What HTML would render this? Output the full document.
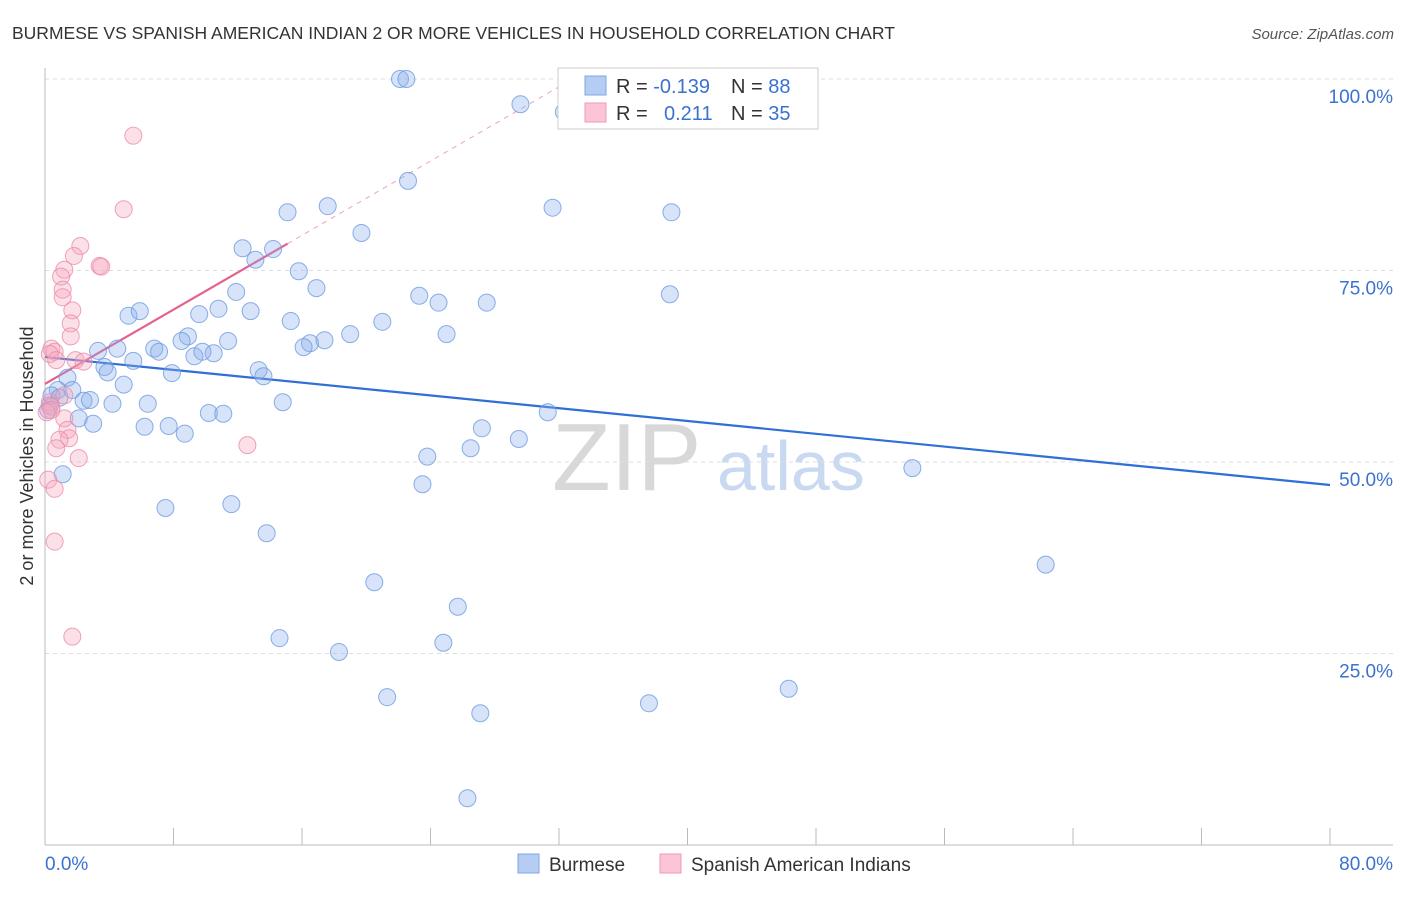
<!DOCTYPE html>
<html><head><meta charset="utf-8">
<style>
body{margin:0;background:#fff;font-family:"Liberation Sans",sans-serif;}
svg text{font-family:"Liberation Sans",sans-serif;}
</style></head>
<body>
<svg id="chart" width="1406" height="892" viewBox="0 0 1406 892" xmlns="http://www.w3.org/2000/svg">
<text x="12" y="39" font-size="17.5" fill="#333">BURMESE VS SPANISH AMERICAN INDIAN 2 OR MORE VEHICLES IN HOUSEHOLD CORRELATION CHART</text>
<text x="1394" y="39" font-size="15" fill="#555" font-style="italic" text-anchor="end">Source: ZipAtlas.com</text>
<text x="552" y="490" font-size="96" fill="#d8d8d8" font-family="Liberation Serif, serif">ZIP</text>
<text x="717" y="490" font-size="70" fill="#c9d9f1">atlas</text>
<g id="grid"></g>
<g id="axes"></g>
<g id="trends"></g>
<g id="points"></g>
<text transform="translate(33,456) rotate(-90)" font-size="18" fill="#333" text-anchor="middle">2 or more Vehicles in Household</text>
<g>
<rect x="558" y="68" width="260" height="61" fill="#fff" stroke="#ccc"/>
<rect x="585" y="76" width="21" height="19" fill="#b5cdf3" stroke="#7ea5e6"/>
<rect x="585" y="103" width="21" height="19" fill="#fbc5d5" stroke="#ef9ab5"/>
<text x="616" y="93" font-size="20" fill="#333">R = <tspan fill="#3a72d0">-0.139</tspan></text>
<text x="731" y="93" font-size="20" fill="#333">N = <tspan fill="#3a72d0">88</tspan></text>
<text x="616" y="120" font-size="20" fill="#333">R = </text>
<text x="664" y="120" font-size="20" fill="#3a72d0">0.211</text>
<text x="731" y="120" font-size="20" fill="#333">N = <tspan fill="#3a72d0">35</tspan></text>
</g>
<g>
<rect x="518" y="854" width="21" height="19" fill="#b5cdf3" stroke="#7ea5e6"/>
<text x="549" y="871" font-size="19" fill="#333">Burmese</text>
<rect x="660" y="854" width="21" height="19" fill="#fbc5d5" stroke="#ef9ab5"/>
<text x="691" y="871" font-size="19" fill="#333">Spanish American Indians</text>
</g>
</svg>
<script>
const xTicks=[0,10,20,30,40,50,60,70,80];
const yTicks=[25,50,75,100];
const yTickLabels=["25.0%","50.0%","75.0%","100.0%"];
const xEndLabels=["0.0%","80.0%"];
const burmeseX=[22.1,22.5,29.6,32.3,22.6,31.6,39.0,15.1,17.6,19.7,12.3,14.2,13.1,15.8,16.9,11.9,23.3,24.5,27.5,38.9,12.8,10.8,9.6,5.2,5.9,15.3,21.0,19.0,25.0,8.9,8.5,11.4,16.5,17.4,16.1,6.8,7.1,3.3,4.5,10.5,9.3,9.8,5.5,3.7,3.9,13.3,13.6,7.9,1.4,4.9,0.8,1.7,0.4,0.9,2.4,2.8,4.2,6.4,14.8,31.3,10.2,11.1,2.1,3.0,6.2,7.7,8.7,27.2,29.5,26.5,23.8,1.1,54.0,23.5,7.5,11.6,13.8,62.3,20.5,25.7,14.6,24.8,18.3,21.3,46.3,37.6,27.1,26.3,0.2,0.3];
const burmeseY=[100,100,96.7,95.7,86.7,83.2,82.6,82.6,83.4,79.9,77.9,77.8,76.4,74.9,72.7,72.2,71.7,70.8,70.8,71.9,69.7,70.0,69.3,69.1,69.7,68.4,68.3,66.7,66.7,66.4,65.8,65.8,65.5,65.9,65.0,64.8,64.4,64.5,64.8,64.2,63.8,64.4,63.2,62.4,61.7,62.0,61.2,61.6,61.0,60.1,59.4,59.4,58.7,58.4,58.0,58.1,57.6,57.6,57.8,56.5,56.4,56.3,55.7,55.0,54.6,54.7,53.7,54.4,53.0,51.8,50.7,48.4,49.2,47.1,44.0,44.5,40.7,36.6,34.3,31.1,27.0,26.4,25.2,19.3,20.4,18.5,17.2,6.1,56.8,57.4];
const spanishX=[5.5,4.9,2.2,1.8,3.4,3.5,1.2,1.0,1.1,1.1,1.7,1.6,1.6,0.4,0.6,0.3,0.7,1.9,2.4,1.2,0.3,0.4,1.2,1.4,1.5,0.9,0.7,2.1,0.2,0.6,0.6,1.7,12.6,0.4,0.1];
const spanishY=[92.6,83.0,78.2,76.9,75.6,75.5,75.1,74.2,72.5,71.5,69.8,68.1,66.4,64.8,64.4,64.1,63.3,63.3,63.1,58.7,57.8,57.2,55.7,54.2,53.1,52.9,51.8,50.5,47.7,46.5,39.6,27.2,52.2,56.8,56.5];
const burmeseTrend=[63.7,47.0]; // y at x=0 and x=80
const spanishTrend=[60.2,78.5]; // y at x=0 and x=15.1
const spanishSolidEnd=15.1;

const NS="http://www.w3.org/2000/svg";
const X0=45,X1=1330,Y0=845,Y100=79;
const sx=v=>X0+(X1-X0)*v/80;
const sy=v=>Y0-(Y0-Y100)*v/100;
function mk(tag,attrs,parent){const e=document.createElementNS(NS,tag);for(const k in attrs)e.setAttribute(k,attrs[k]);parent.appendChild(e);return e;}
const grid=document.getElementById('grid'),axes=document.getElementById('axes'),trends=document.getElementById('trends'),pts=document.getElementById('points');
yTicks.forEach((t,i)=>{
  const l=mk('line',{x1:X0,x2:1393,y1:sy(t),y2:sy(t),stroke:'#ddd','stroke-dasharray':'4,4'},grid);
  
  
  const tx=mk('text',{x:1393,y:sy(t)+24,'font-size':19,fill:'#3a72d0','text-anchor':'end'},grid);
  tx.textContent=yTickLabels[i];
  
  
});
const ya=mk('line',{x1:X0,x2:X0,y1:68,y2:Y0,stroke:'#bbb'},axes);


const xa=mk('line',{x1:X0,x2:1393,y1:Y0,y2:Y0,stroke:'#bbb'},axes);


for(let i=0;i<=10;i++){
  const v=i*8;
  const tk=mk('line',{x1:sx(v),x2:sx(v),y1:828,y2:Y0,stroke:'#bbb'},axes);
  
  
}
const xl0=mk('text',{x:45,y:870,'font-size':19,fill:'#3a72d0'},axes);
xl0.textContent=xEndLabels[0];


const xl1=mk('text',{x:1393,y:870,'font-size':19,fill:'#3a72d0','text-anchor':'end'},axes);
xl1.textContent=xEndLabels[1];



burmeseX.forEach((x,i)=>{
  const c=mk('circle',{cx:sx(x),cy:sy(burmeseY[i]),r:8.5,fill:'rgba(140,176,234,0.35)',stroke:'rgba(110,155,225,0.8)','stroke-width':1},pts);
  
  
});
spanishX.forEach((x,i)=>{
  const c=mk('circle',{cx:sx(x),cy:sy(spanishY[i]),r:8.5,fill:'rgba(245,165,190,0.35)',stroke:'rgba(235,140,170,0.8)','stroke-width':1},pts);
  
  
});
const bt=mk('line',{x1:sx(0),y1:sy(burmeseTrend[0]),x2:sx(80),y2:sy(burmeseTrend[1]),stroke:'#2f6fd6','stroke-width':2.2},trends);


const slope=(spanishTrend[1]-spanishTrend[0])/spanishSolidEnd;
const xEnd=(100-spanishTrend[0])/slope;
const sd=mk('line',{x1:sx(spanishSolidEnd),y1:sy(spanishTrend[1]),x2:sx(xEnd),y2:sy(100),stroke:'#eba4bb','stroke-width':1,'stroke-dasharray':'5,5'},trends);


const st=mk('line',{x1:sx(0),y1:sy(spanishTrend[0]),x2:sx(spanishSolidEnd),y2:sy(spanishTrend[1]),stroke:'#e5608c','stroke-width':2.2},trends);


</script>
</body></html>
